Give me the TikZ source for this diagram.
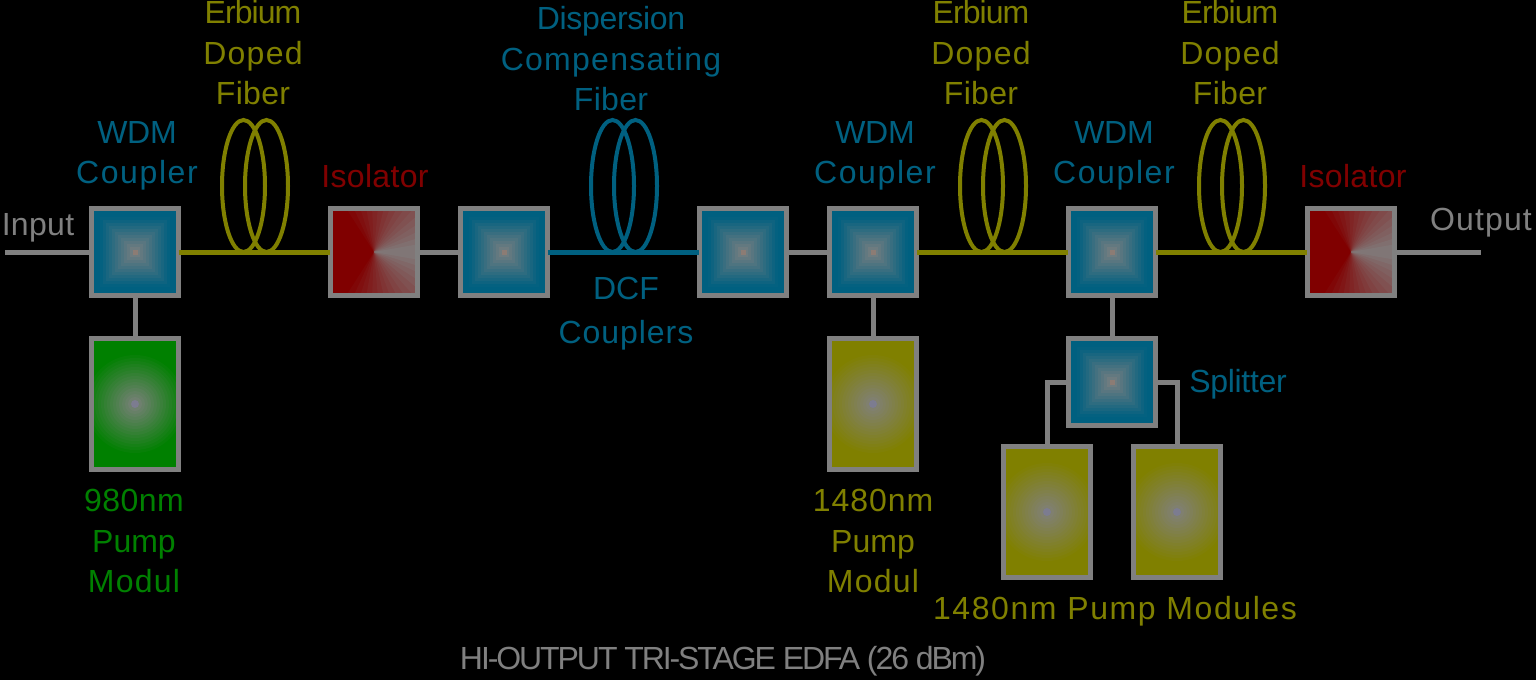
\documentclass[tikz,border=0pt]{standalone}
\usepackage{fontspec}
\setmainfont{Liberation Sans}
\usepackage{tikz}
\usetikzlibrary{positioning, calc}

\definecolor{wiregray}{HTML}{808080}
\definecolor{couplerblue}{HTML}{006080}
\definecolor{erbiumolive}{HTML}{808000}
\definecolor{isored}{HTML}{800000}
\definecolor{pumpgreen}{HTML}{008000}
\definecolor{corepink}{HTML}{8C7C74}
\definecolor{coreviolet}{HTML}{7C7C90}

% one line of text with its own tracking
\newcommand{\spc}[2]{{\addfontfeature{LetterSpace=#1}#2}}

\tikzset{
  wire/.style={line width=5pt, wiregray},
  fiberwire/.style={line width=5pt, #1, shorten <=-2pt, shorten >=-2pt},
  coilloop/.style={line width=4pt, #1},
  lbl/.style={font=\fontsize{32}{40.5}\selectfont, align=center, inner sep=0pt, text=#1},
  devbox/.style={draw=wiregray, line width=4.7pt, inner sep=0pt, minimum width=87pt, minimum height=87pt},
  couplerbox/.style={devbox, path picture={
    \fill[couplerblue] (path picture bounding box.south west) rectangle (path picture bounding box.north east);
    \foreach \s in {0,...,12} {
      \pgfmathsetmacro\rad{41-\s*3}
      \pgfmathsetmacro\mixval{min(100,\rad/36*100)}
      \fill[couplerblue!\mixval!wiregray] ($(path picture bounding box.center)+(-\rad,-\rad)$) rectangle ($(path picture bounding box.center)+(\rad,\rad)$);
    }
    \fill[corepink] ($(path picture bounding box.center)+(-2.5,-2.5)$) rectangle ($(path picture bounding box.center)+(2.5,2.5)$);
  }},
  isolatorbox/.style={devbox, path picture={
    \fill[isored] (path picture bounding box.south west) rectangle (path picture bounding box.north east);
    \foreach \a in {130,122.5,...,5} {
      \pgfmathsetmacro\mixval{\a/130*100}
      \fill[isored!\mixval!wiregray] (path picture bounding box.center) -- ++(-\a:80) arc (-\a:\a:80) -- cycle;
    }
  }},
  pumpbox/.style={draw=wiregray, line width=4.7pt, inner sep=0pt, minimum width=87pt, minimum height=131pt, path picture={
    \fill[#1] (path picture bounding box.south west) rectangle (path picture bounding box.north east);
    \foreach \r in {52,49,...,7} {
      \pgfmathsetmacro\mixval{\r/52*100}
      \fill[#1!\mixval!wiregray] (path picture bounding box.center) circle (\r);
    }
    \fill[coreviolet] (path picture bounding box.center) circle (4);
  }},
}

% one fiber spool, two overlapping loops
\newcommand{\fibercoil}[2]{
  \draw[coilloop=#2] (#1-11.5,186) ellipse (21.5 and 66);
  \draw[coilloop=#2] (#1+11.5,186) ellipse (21.5 and 66);
}

\begin{document}
\begin{tikzpicture}[x=1pt,y=-1pt]
  \fill[black] (0,0) rectangle (1536,680);
  \useasboundingbox (0,0) rectangle (1536,680);

  % --- FIBER COILS ---
  \fibercoil{255}{erbiumolive}
  \fibercoil{624}{couplerblue}
  \fibercoil{993}{erbiumolive}
  \fibercoil{1232}{erbiumolive}

  % --- MAIN LINE ---
  \node[couplerbox]  (wdmA) at (135,252) {};
  \node[isolatorbox] (isoA) at (374,252) {};
  \node[couplerbox]  (dcfA) at (504,252) {};
  \node[couplerbox]  (dcfB) at (743,252) {};
  \node[couplerbox]  (wdmB) at (873,252) {};
  \node[couplerbox]  (wdmC) at (1112,252) {};
  \node[isolatorbox] (isoB) at (1351,252) {};
  \node[couplerbox]  (split) at (1112,382) {};

  % --- PUMPS ---
  \node[pumpbox=pumpgreen]   (pumpA) at (135,404) {};
  \node[pumpbox=erbiumolive] (pumpB) at (873,404) {};
  \node[pumpbox=erbiumolive] (pumpC) at (1047,512) {};
  \node[pumpbox=erbiumolive] (pumpD) at (1177,512) {};

  % --- CONNECTORS ---
  \coordinate (inEnd) at (5,252);
  \coordinate (outEnd) at (1481,252);
  \draw[wire] (inEnd) -- (wdmA);
  \draw[fiberwire=erbiumolive] (wdmA) -- (isoA);
  \draw[wire] (isoA) -- (dcfA);
  \draw[fiberwire=couplerblue] (dcfA) -- (dcfB);
  \draw[wire] (dcfB) -- (wdmB);
  \draw[fiberwire=erbiumolive] (wdmB) -- (wdmC);
  \draw[fiberwire=erbiumolive] (wdmC) -- (isoB);
  \draw[wire] (isoB) -- (outEnd);
  \draw[wire] (wdmA) -- (pumpA);
  \draw[wire] (wdmB) -- (pumpB);
  \draw[wire] (wdmC) -- (split);
  \draw[wire] (split.west) -| (pumpC.north);
  \draw[wire] (split.east) -| (pumpD.north);

  % --- LABELS ---
  \node[lbl=wiregray] (inLbl) at (38,228) {\spc{1}{Input}};
  \node[lbl=wiregray] (outLbl) at (1481,223) {\spc{3.5}{Output}};
  \node[lbl=erbiumolive] (edfA) at (253,53) {\spc{-3}{Erbium}\\\spc{4}{Doped}\\\spc{1}{Fiber}};
  \node[lbl=erbiumolive] (edfB) at (981,53) {\spc{-3}{Erbium}\\\spc{4}{Doped}\\\spc{1}{Fiber}};
  \node[lbl=erbiumolive] (edfC) at (1230,53) {\spc{-3}{Erbium}\\\spc{4}{Doped}\\\spc{1}{Fiber}};
  \node[lbl=couplerblue] (dcfLbl) at (611,59) {\spc{-1}{Dispersion}\\\spc{4}{Compensating}\\\spc{1}{Fiber}};
  \node[lbl=couplerblue] (wdmLblA) at (137,156) {\spc{-1}{WDM}\\\spc{5}{Coupler}};
  \node[lbl=couplerblue] (wdmLblB) at (875,156) {\spc{-1}{WDM}\\\spc{5}{Coupler}};
  \node[lbl=couplerblue] (wdmLblC) at (1114,156) {\spc{-1}{WDM}\\\spc{5}{Coupler}};
  \node[lbl=isored] (isoLblA) at (375,176) {\spc{1}{Isolator}};
  \node[lbl=isored] (isoLblB) at (1353,176) {\spc{1}{Isolator}};
  \node[lbl=couplerblue, font=\fontsize{32}{44}\selectfont] (cplLbl) at (626,314) {DCF\\\spc{3}{Couplers}};
  \node[lbl=couplerblue] (splitLbl) at (1238,384) {\spc{-1}{Splitter}};
  \node[lbl=pumpgreen] (pumpLblA) at (134,541) {\spc{1.5}{980nm}\\Pump\\\spc{4}{Modul}};
  \node[lbl=erbiumolive] (pumpLblB) at (873,541) {\spc{3}{1480nm}\\Pump\\\spc{4}{Modul}};
  \node[lbl=erbiumolive] (pumpLblC) at (1115,611) {\spc{5}{1480nm\,\,Pump\,\,Modules}};
  \node[lbl=wiregray] (titleLbl) at (723,661) {\spc{-6.5}{HI-OUTPUT TRI-STAGE EDFA (26 dBm)}};
\end{tikzpicture}
\end{document}
